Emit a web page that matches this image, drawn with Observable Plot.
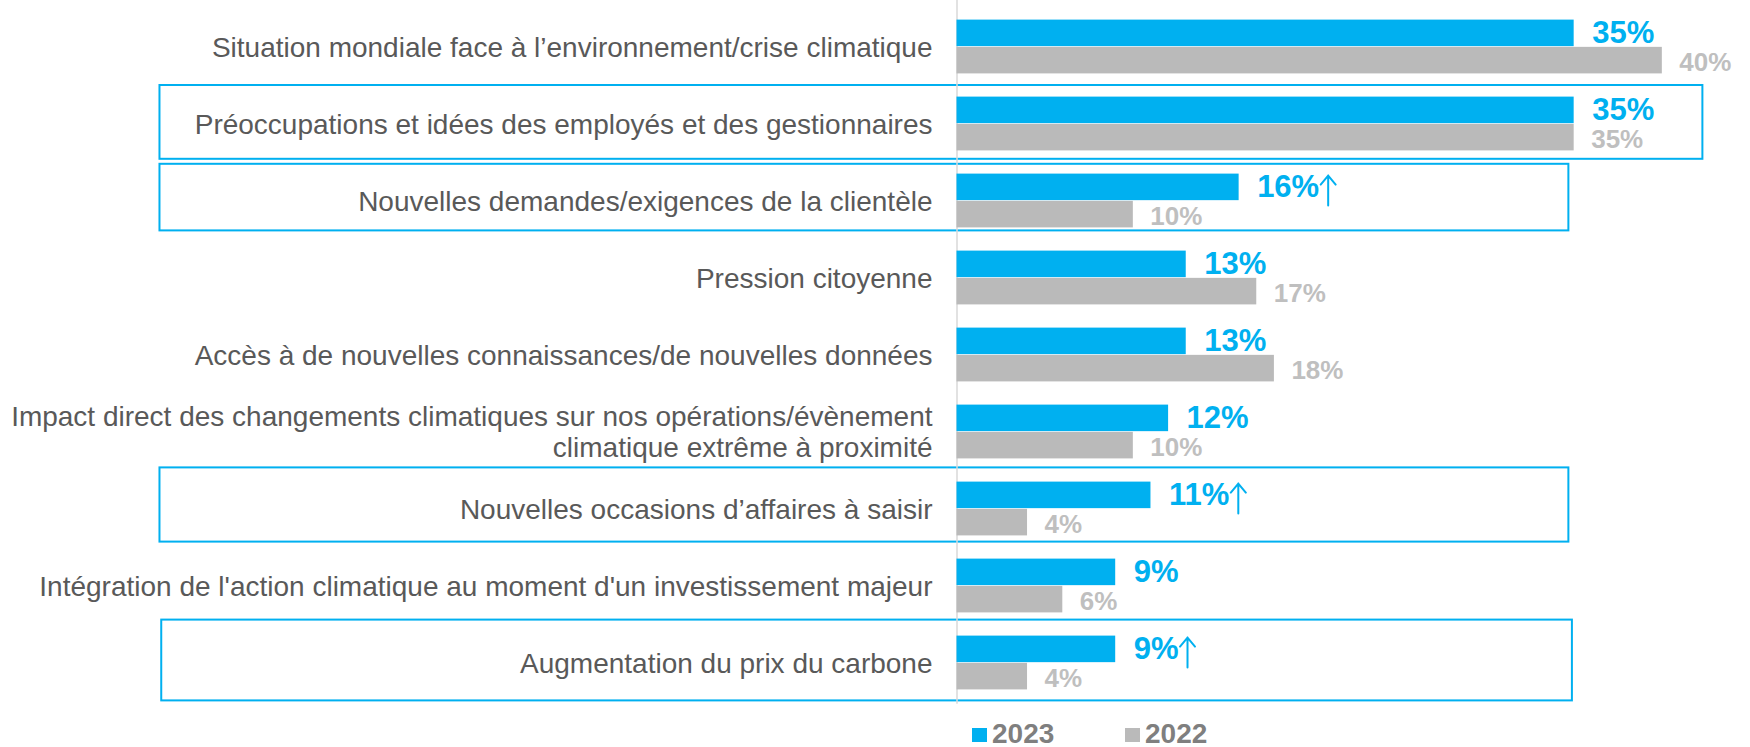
<!DOCTYPE html>
<html><head><meta charset="utf-8">
<script src="https://cdn.jsdelivr.net/npm/d3@7"></script>
<script src="https://cdn.jsdelivr.net/npm/@observablehq/plot@0.6"></script>
<style>
body{margin:0;background:#fff;font-family:"Liberation Sans",Arial,sans-serif;}
#legend{position:relative;height:35px;width:1750px;}
.sw{position:absolute;top:16px;width:15px;height:14px;}
.lt{position:absolute;top:7.6px;line-height:28px;font-weight:bold;font-size:28px;color:#7f7f7f;}
</style></head><body><div id="chart"></div><div id="legend"></div>
<script>
const categories = [
  "Situation mondiale face à l’environnement/crise climatique",
  "Préoccupations et idées des employés et des gestionnaires",
  "Nouvelles demandes/exigences de la clientèle",
  "Pression citoyenne",
  "Accès à de nouvelles connaissances/de nouvelles données",
  "Impact direct des changements climatiques sur nos opérations/évènement\nclimatique extrême à proximité",
  "Nouvelles occasions d’affaires à saisir",
  "Intégration de l'action climatique au moment d'un investissement majeur",
  "Augmentation du prix du carbone"
];
const values2023 = [35, 35, 16, 13, 13, 12, 11, 9, 9];
const values2022 = [40, 35, 10, 17, 18, 10, 4, 6, 4];
const significantUp = [false, false, true, false, false, false, true, false, true];
const years = ["2023", "2022"];
const highlighted = [1, 2, 6, 8];

const d23 = categories.map((c, i) => ({cat: c, year: years[0], value: values2023[i], up: significantUp[i]}));
const d22 = categories.map((c, i) => ({cat: c, year: years[1], value: values2022[i]}));

const FONT = '"Liberation Sans", Arial, sans-serif';
const BLUE = "#00b0f0", GREY = "#bababa";

const ctx = document.createElement("canvas").getContext("2d");
ctx.font = 'bold 31px "Liberation Sans"';
const w = s => ctx.measureText(s).width;

// box annotations (geometry kept here with the marks)
const boxStyle = [
  {x1: -45.2, x2: 42.3, insetTop: 0, insetBottom: 3.2},
  {x1: -45.2, x2: 34.7, insetTop: 1.8, insetBottom: 8.6},
  {x1: -45.2, x2: 34.7, insetTop: -2.6, insetBottom: 5.4},
  {x1: -45.1, x2: 34.9, insetTop: -4.4, insetBottom: 0.6}
];
const boxMarks = highlighted.map((idx, k) => Plot.barX([{cat: categories[idx]}], {
  y: "cat", x1: () => boxStyle[k].x1, x2: () => boxStyle[k].x2,
  fill: "none", stroke: BLUE, strokeWidth: 2,
  insetTop: boxStyle[k].insetTop, insetBottom: boxStyle[k].insetBottom
}));

const thinArrow = {
  draw(context, l) {
    const wing = l / 4;
    context.moveTo(0, 0);
    context.lineTo(0, -l);
    context.moveTo(-wing, -l + wing * 1.2);
    context.lineTo(0, -l);
    context.lineTo(wing, -l + wing * 1.2);
  }
};
const arrowMarks = d23.filter(d => d.up).map(d => Plot.vector([d], {
  x: "value", y: "cat", length: 30, rotate: 0, anchor: "start", shape: thinArrow,
  dx: 18 + w(d.value + "%") + 9, dy: 4.6,
  stroke: BLUE, strokeWidth: 2
}));

const chart = Plot.plot({
  width: 1750, height: 712,
  marginLeft: 956.5, marginRight: 0, marginTop: 4.5, marginBottom: 8.3,
  x: {domain: [0, 45], axis: null},
  y: {domain: categories, axis: null, padding: 0},
  length: {type: "identity"},
  style: {fontFamily: FONT, background: "#fff", overflow: "visible"},
  marks: [
    ...boxMarks,
    Plot.ruleX([0], {stroke: "#d9d9d9", strokeWidth: 1.5, insetTop: -4.5}),
    Plot.barX(d23, {x: "value", y: "cat", fill: BLUE, insetTop: 11.6, insetBottom: 38.85}),
    Plot.barX(d22, {x: "value", y: "cat", fill: GREY, insetTop: 38.85, insetBottom: 11.6}),
    Plot.text(d23, {x: "value", y: "cat", text: d => d.value + "%", dx: 18, dy: -14,
      textAnchor: "start", fill: BLUE, fontSize: 31, fontWeight: "bold"}),
    Plot.text(d22, {x: "value", y: "cat", text: d => d.value + "%", dx: 17, dy: 15.4,
      textAnchor: "start", fill: "#bfbfbf", fontSize: 26, fontWeight: "bold"}),
    ...arrowMarks,
    Plot.text(categories, {y: d => d, text: d => d, frameAnchor: "left", dx: -24.5,
      textAnchor: "end", fill: "#595959", fontSize: 28, lineHeight: 1.1})
  ]
});
document.getElementById("chart").appendChild(chart);

const legend = document.getElementById("legend");
const items = [{label: years[0], color: BLUE, sx: 972, tx: 992}, {label: years[1], color: GREY, sx: 1125, tx: 1145}];
for (const it of items) {
  const s = document.createElement("div"); s.className = "sw"; s.style.left = it.sx + "px"; s.style.background = it.color; legend.appendChild(s);
  const t = document.createElement("div"); t.className = "lt"; t.style.left = it.tx + "px"; t.textContent = it.label; legend.appendChild(t);
}
</script></body></html>
